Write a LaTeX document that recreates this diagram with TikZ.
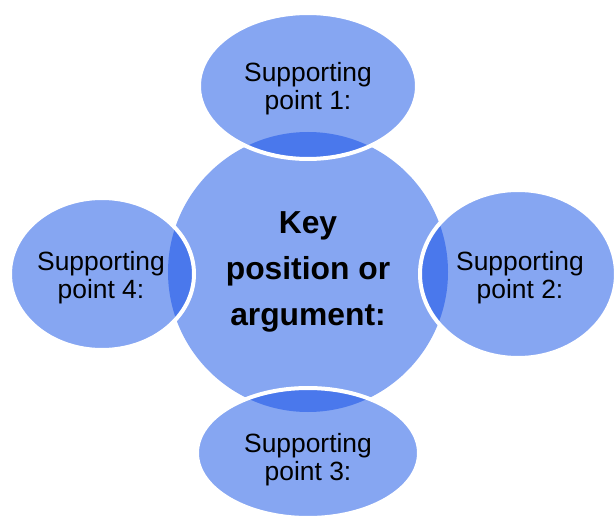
\documentclass[tikz,border=0pt]{standalone}
\usepackage{fontspec}
\setmainfont{Liberation Sans}
\usepackage{tikz}

\definecolor{pointblue}{RGB}{134,166,242}
\definecolor{overlapblue}{RGB}{74,120,236}

\tikzset{
	point/.style={align=center, font=\fontsize{13.2}{14}\selectfont},
	key/.style={align=center, font=\fontsize{15.9}{23}\selectfont\bfseries},
	rim/.style={draw=white, line width=2pt}
}

\begin{document}
\begin{tikzpicture}[x=0.5pt, y=-0.5pt]
	%\draw[help lines] (0,0) grid[step=50] (616,518);
	\useasboundingbox (0,0) rectangle (616,518);
	\fill[pointblue] (308,272) circle [radius=140];
	\fill[pointblue] (308,86) circle [x radius=109, y radius=73];
	\fill[pointblue] (518,274) circle [x radius=98, y radius=84];
	\fill[pointblue] (308,453) circle [x radius=111, y radius=65];
	\fill[pointblue] (102,274) circle [x radius=92, y radius=76];
	\begin{scope}
		\clip (308,272) circle [radius=140];
		\fill[overlapblue] (308,86) circle [x radius=109, y radius=73];
		\fill[overlapblue] (518,274) circle [x radius=98, y radius=84];
		\fill[overlapblue] (308,453) circle [x radius=111, y radius=65];
		\fill[overlapblue] (102,274) circle [x radius=92, y radius=76];
	\end{scope}
	\draw[rim] (308,86) circle [x radius=109, y radius=73];
	\draw[rim] (518,274) circle [x radius=98, y radius=84];
	\draw[rim] (308,453) circle [x radius=111, y radius=65];
	\draw[rim] (102,274) circle [x radius=92, y radius=76];
	\node[key] (keyarg) at (308,272) {Key\\position or\\argument:};
	\node[point] (point1) at (308,89) {Supporting\\point 1:};
	\node[point] (point2) at (520,278) {Supporting\\point 2:};
	\node[point] (point3) at (308,460) {Supporting\\point 3:};
	\node[point] (point4) at (101,278) {Supporting\\point 4:};
\end{tikzpicture}
\end{document}
